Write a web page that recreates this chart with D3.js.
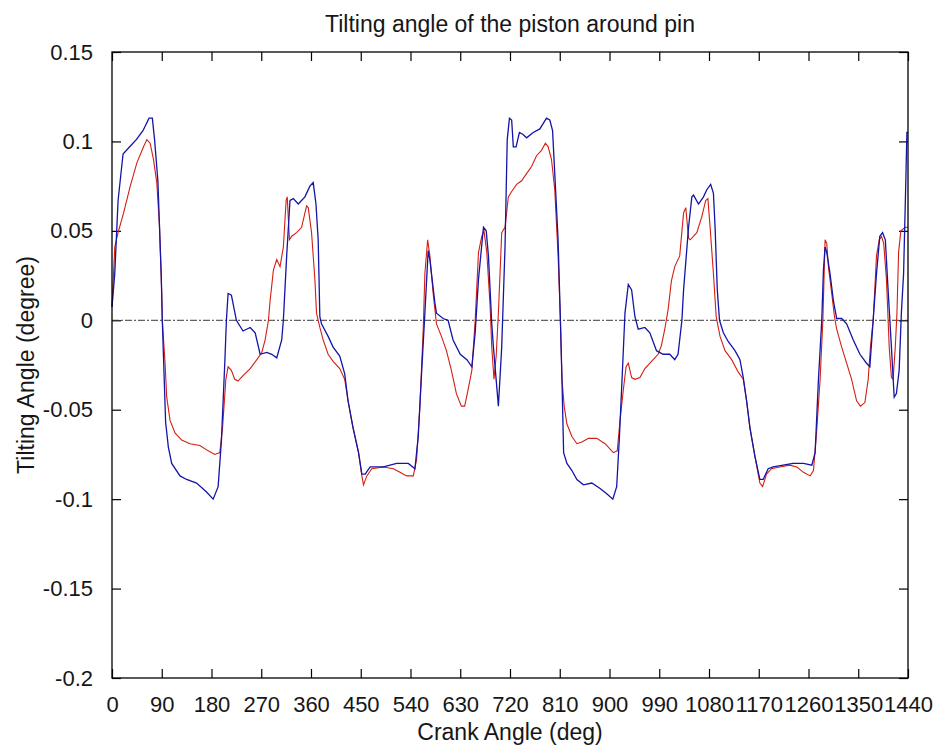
<!DOCTYPE html>
<html>
<head>
<meta charset="utf-8">
<script src="https://cdn.jsdelivr.net/npm/d3@7"></script>
<style>
  body { margin: 0; background: #fff; }
  svg text { font-family: "Liberation Sans", Arial, sans-serif; fill: #161616; }
</style>
</head>
<body>
<svg id="chart"></svg>
<script>
// crank angle ticks and tilt ticks
const xTicks = [0, 90, 180, 270, 360, 450, 540, 630, 720, 810, 900, 990, 1080, 1170, 1260, 1350, 1440];
const yTicks = [0.15, 0.1, 0.05, 0, -0.05, -0.1, -0.15, -0.2];
const yTickLabels = ["0.15", "0.1", "0.05", "0", "-0.05", "-0.1", "-0.15", "-0.2"];

// blue series
const blueAngle = [0, 5, 11, 20, 32, 44, 56, 67, 73, 77, 83, 89, 91, 97, 102, 108, 123, 135, 153, 171, 183, 192, 198, 204, 207, 210, 216, 225, 237, 250, 259, 268, 280, 289, 298, 307, 310, 316, 322, 328, 337, 349, 358, 364, 369, 373, 376, 379, 391, 400, 412, 421, 427, 436, 446, 452, 458, 467, 491, 515, 536, 548, 554, 560, 566, 572, 575, 584, 587, 599, 608, 617, 630, 642, 651, 657, 663, 672, 677, 681, 687, 690, 699, 705, 708, 711, 715, 719, 723, 726, 731, 737, 743, 750, 762, 774, 786, 792, 797, 801, 807, 811, 814, 817, 823, 832, 841, 853, 868, 883, 895, 906, 913, 918, 924, 928, 934, 940, 946, 952, 964, 973, 985, 997, 1009, 1018, 1024, 1031, 1034, 1043, 1049, 1052, 1061, 1070, 1076, 1083, 1088, 1091, 1095, 1099, 1106, 1115, 1127, 1136, 1142, 1148, 1154, 1163, 1172, 1178, 1187, 1196, 1214, 1232, 1251, 1266, 1272, 1278, 1284, 1287, 1290, 1293, 1299, 1305, 1311, 1320, 1329, 1341, 1353, 1365, 1371, 1377, 1383, 1389, 1394, 1399, 1404, 1410, 1415, 1419, 1424, 1428, 1432, 1436, 1438, 1440];
const blueValue = [0.0075, 0.026, 0.067, 0.093, 0.097, 0.101, 0.106, 0.113, 0.113, 0.101, 0.078, 0.026, 0, -0.057, -0.071, -0.080, -0.087, -0.089, -0.091, -0.096, -0.100, -0.093, -0.067, -0.024, 0, 0.015, 0.014, 0, -0.006, -0.004, -0.007, -0.019, -0.018, -0.019, -0.021, -0.011, 0, 0.036, 0.067, 0.068, 0.065, 0.069, 0.075, 0.077, 0.065, 0.045, 0.002, -0.002, -0.009, -0.015, -0.020, -0.030, -0.045, -0.060, -0.074, -0.086, -0.086, -0.082, -0.082, -0.080, -0.080, -0.083, -0.065, -0.030, 0.004, 0.039, 0.034, 0.010, 0.004, 0.001, 0, -0.011, -0.019, -0.022, -0.026, -0.007, 0.023, 0.052, 0.050, 0.036, -0.002, -0.015, -0.048, -0.015, 0.013, 0.041, 0.101, 0.113, 0.112, 0.097, 0.097, 0.105, 0.104, 0.102, 0.105, 0.107, 0.113, 0.112, 0.106, 0.082, 0.045, 0.002, -0.033, -0.074, -0.080, -0.084, -0.089, -0.092, -0.091, -0.094, -0.097, -0.100, -0.093, -0.065, -0.024, 0.004, 0.020, 0.017, 0.002, -0.005, -0.004, -0.007, -0.017, -0.019, -0.019, -0.022, -0.019, 0, 0.017, 0.052, 0.069, 0.070, 0.065, 0.069, 0.073, 0.076, 0.071, 0.052, 0.017, 0, -0.007, -0.012, -0.017, -0.022, -0.032, -0.045, -0.060, -0.076, -0.089, -0.089, -0.083, -0.082, -0.081, -0.080, -0.080, -0.081, -0.074, -0.033, 0, 0.028, 0.041, 0.038, 0.026, 0.011, 0.001, 0.001, -0.002, -0.011, -0.019, -0.024, -0.026, 0, 0.026, 0.047, 0.049, 0.045, 0.017, -0.015, -0.043, -0.041, -0.028, 0.004, 0.026, 0.077, 0.105, 0.105];

// red series
const redAngle = [0, 5, 11, 21, 33, 45, 57, 63, 69, 75, 81, 86, 90, 91, 96, 99, 105, 114, 126, 141, 159, 174, 186, 195, 200, 206, 210, 216, 222, 228, 237, 250, 262, 271, 277, 283, 286, 292, 298, 304, 310, 315, 317, 321, 325, 334, 343, 352, 355, 361, 367, 370, 376, 382, 391, 400, 412, 421, 427, 436, 446, 452, 455, 461, 470, 491, 509, 521, 533, 545, 551, 557, 563, 566, 571, 575, 581, 587, 596, 605, 614, 623, 632, 638, 644, 651, 657, 663, 669, 673, 678, 684, 687, 691, 695, 699, 705, 711, 717, 723, 732, 741, 750, 759, 768, 777, 784, 789, 795, 801, 807, 811, 814, 818, 823, 832, 841, 850, 862, 877, 892, 907, 914, 919, 925, 930, 934, 940, 946, 955, 964, 976, 988, 994, 1000, 1006, 1012, 1018, 1027, 1034, 1038, 1043, 1046, 1058, 1067, 1074, 1078, 1082, 1088, 1093, 1100, 1109, 1121, 1133, 1142, 1148, 1154, 1163, 1172, 1177, 1184, 1193, 1208, 1226, 1239, 1251, 1263, 1269, 1275, 1281, 1286, 1290, 1293, 1296, 1302, 1307, 1311, 1320, 1329, 1338, 1347, 1354, 1362, 1368, 1372, 1377, 1383, 1388, 1392, 1396, 1401, 1406, 1410, 1413, 1417, 1420, 1423, 1427, 1435, 1440];
const redValue = [0.0075, 0.041, 0.049, 0.060, 0.075, 0.088, 0.097, 0.101, 0.099, 0.090, 0.077, 0.052, 0.015, 0, -0.024, -0.043, -0.056, -0.063, -0.067, -0.069, -0.070, -0.073, -0.075, -0.074, -0.060, -0.033, -0.026, -0.028, -0.033, -0.034, -0.031, -0.027, -0.022, -0.018, -0.011, 0, 0.011, 0.028, 0.034, 0.030, 0.041, 0.067, 0.069, 0.045, 0.047, 0.049, 0.052, 0.064, 0.063, 0.049, 0.023, 0.004, -0.004, -0.011, -0.019, -0.023, -0.027, -0.033, -0.045, -0.060, -0.074, -0.087, -0.092, -0.087, -0.083, -0.082, -0.083, -0.085, -0.087, -0.087, -0.078, -0.048, -0.005, 0.026, 0.045, 0.036, 0.015, -0.002, -0.009, -0.017, -0.028, -0.041, -0.048, -0.048, -0.039, -0.028, 0, 0.038, 0.047, 0.050, 0.038, 0.008, -0.015, -0.033, -0.020, 0.004, 0.049, 0.052, 0.069, 0.072, 0.076, 0.078, 0.082, 0.086, 0.092, 0.095, 0.099, 0.097, 0.090, 0.073, 0.036, 0.002, -0.033, -0.048, -0.058, -0.065, -0.069, -0.068, -0.066, -0.066, -0.069, -0.074, -0.073, -0.056, -0.039, -0.026, -0.024, -0.032, -0.033, -0.032, -0.027, -0.023, -0.019, -0.014, -0.005, 0.006, 0.022, 0.030, 0.036, 0.060, 0.063, 0.046, 0.045, 0.049, 0.058, 0.067, 0.068, 0.052, 0.026, 0.002, -0.009, -0.017, -0.022, -0.029, -0.033, -0.045, -0.060, -0.076, -0.091, -0.093, -0.086, -0.083, -0.082, -0.081, -0.082, -0.085, -0.087, -0.084, -0.061, -0.033, 0, 0.045, 0.043, 0.030, 0.015, 0.002, -0.005, -0.015, -0.024, -0.033, -0.045, -0.048, -0.046, -0.033, -0.015, 0, 0.036, 0.045, 0.047, 0.043, 0.023, -0.015, -0.032, -0.033, -0.015, 0.004, 0.038, 0.050, 0.052, 0.052];

const width = 936, height = 745;
const margin = {top: 52, right: 28, bottom: 67, left: 112};
const innerW = width - margin.left - margin.right;
const innerH = height - margin.top - margin.bottom;
const tickLen = 9;

const svg = d3.select("#chart").attr("width", width).attr("height", height);
const g = svg.append("g").attr("transform", `translate(${margin.left},${margin.top})`);

const x = d3.scaleLinear().domain([0, 1440]).range([0, innerW]);
const y = d3.scaleLinear().domain([-0.2, 0.15]).range([innerH, 0]);

// axes with inward ticks, on all four sides
const axisStyle = sel => {
    sel.select(".domain").remove();
    sel.selectAll(".tick line").attr("stroke", "#000").attr("stroke-width", 1.2);
};
const bottom = g.append("g").attr("transform", `translate(0,${innerH})`)
    .call(d3.axisBottom(x).tickValues(xTicks).tickSize(-tickLen).tickPadding(tickLen + 9)
        .tickFormat(d3.format("d")));
bottom.call(axisStyle);
bottom.selectAll("text").attr("font-size", 22);
g.append("g").call(d3.axisTop(x).tickValues(xTicks).tickSize(-tickLen).tickFormat(""))
    .call(axisStyle);
const left = g.append("g")
    .call(d3.axisLeft(y).tickValues(yTicks).tickSize(-tickLen).tickPadding(tickLen + 10)
        .tickFormat((d, i) => yTickLabels[i]));
left.call(axisStyle);
left.selectAll("text").attr("font-size", 22);
g.append("g").attr("transform", `translate(${innerW},0)`)
    .call(d3.axisRight(y).tickValues(yTicks).tickSize(-tickLen).tickFormat(""))
    .call(axisStyle);

// zero line
g.append("line")
    .attr("x1", 0).attr("x2", innerW)
    .attr("y1", y(0)).attr("y2", y(0))
    .attr("stroke", "#3a3a3a").attr("stroke-width", 1)
    .attr("stroke-dasharray", "7,2,2,2");

const line = d3.line().x(d => x(d[0])).y(d => y(d[1]));
g.append("path")
    .datum(d3.zip(redAngle, redValue))
    .attr("d", line).attr("fill", "none")
    .attr("stroke", "#d41e12").attr("stroke-width", 1.1);
g.append("path")
    .datum(d3.zip(blueAngle, blueValue))
    .attr("d", line).attr("fill", "none")
    .attr("stroke", "#1414a8").attr("stroke-width", 1.3);

// plot box
g.append("rect").attr("width", innerW).attr("height", innerH)
    .attr("fill", "none").attr("stroke", "#000").attr("stroke-width", 1.3);

// titles
svg.append("text").attr("x", margin.left + innerW / 2).attr("y", 32)
    .attr("text-anchor", "middle").attr("font-size", 23)
    .text("Tilting angle of the piston around pin");
svg.append("text").attr("x", margin.left + innerW / 2).attr("y", 740)
    .attr("text-anchor", "middle").attr("font-size", 23)
    .text("Crank Angle (deg)");
svg.append("text")
    .attr("transform", `translate(34,${margin.top + innerH / 2}) rotate(-90)`)
    .attr("text-anchor", "middle").attr("font-size", 23)
    .text("Tilting Angle (degree)");
</script>
</body>
</html>
